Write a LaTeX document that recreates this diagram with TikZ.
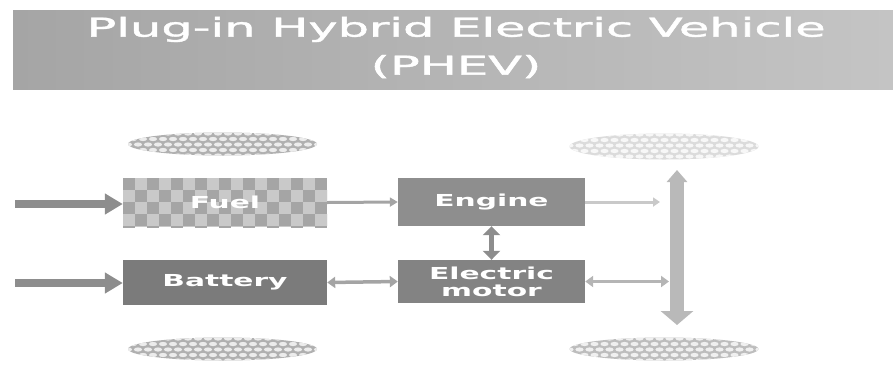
\documentclass[tikz,border=0pt]{standalone}
\usepackage{fontspec}
\setmainfont{DejaVu Sans}
\newfontfamily\titlefont[FakeBold=1.3]{DejaVu Sans}
\usepackage{graphicx}
\usetikzlibrary{arrows.meta,calc,shapes.geometric}
\definecolor{band}{HTML}{A5A5A5}
\definecolor{bandlight}{HTML}{C4C4C4}
\definecolor{battfill}{HTML}{7B7B7B}
\definecolor{engfill}{HTML}{8E8E8E}
\definecolor{motfill}{HTML}{838383}
\definecolor{checklight}{HTML}{C9C9C9}
\definecolor{checkdark}{HTML}{A5A5A5}
\definecolor{flow}{HTML}{8D8D8D}
\definecolor{flowmid}{HTML}{A4A4A4}
\definecolor{flowpale}{HTML}{C9C9C9}
\newcommand{\stretchx}[1]{\scalebox{1.8}[1]{#1}}

\begin{document}
\begin{tikzpicture}[x=1pt, y=-1pt,
  unit/.style={rectangle, minimum width=204pt, inner sep=0pt, text=white, font=\fontsize{16.5}{17}\selectfont\bfseries},
  tyre/.style 2 args={ellipse, minimum width=189pt, minimum height=23pt, inner sep=0pt, fill=#1, path picture={
      \foreach \j in {0,...,4}\foreach \i in {0,...,20}{
        \fill[#2] ($(path picture bounding box.north west)+({\i*10pt+mod(\j,2)*5pt},{-\j*5.5pt-1pt})$)
          ellipse [x radius=4.1pt, y radius=2.1pt];}}},
  feed/.style={flow, line width=8pt, -{Triangle[length=18pt,width=20pt]}},
  link/.style={flowmid, line width=3.5pt, {Triangle[length=8pt,width=11pt]}-{Triangle[length=8pt,width=11pt]}}]
  \useasboundingbox (0,0) rectangle (893,368);
  % title band
  \fill[left color=band, right color=bandlight] (13,10) rectangle (893,89);
  \node[text=white, align=center, font=\fontsize{26}{38}\selectfont\titlefont] (title) at (456,47.5)
    {\scalebox{1.9}[1]{Plug-in Hybrid Electric Vehicle}\\\scalebox{1.9}[1]{(PHEV)}};
  % wheels
  \node[tyre={gray!62}{gray!15}] (tyreTL) at (222.5,144) {};
  \node[tyre={gray!62}{gray!15}] (tyreBL) at (222.5,349) {};
  \node[tyre={gray!28}{gray!6}, minimum height=26pt] (tyreTR) at (664,146.5) {};
  \node[tyre={gray!52}{gray!12}] (tyreBR) at (664,349) {};
  % units
  \node[unit, minimum height=49pt, fill=checklight, path picture={
      \foreach \i in {0,...,17}\foreach \j in {0,...,4}{
        \pgfmathtruncatemacro{\k}{mod(\i+\j,2)}
        \ifnum\k=0 \fill[checkdark] ($(path picture bounding box.north west)+(\i*12pt,-\j*12pt)$) rectangle ++(12pt,-12pt);\fi}}]
    (fuel) at (225,202.5) {\stretchx{Fuel}};
  \node[unit, minimum height=45pt, fill=battfill] (battery) at (225,282.5) {\stretchx{Battery}};
  \node[unit, minimum width=187pt, minimum height=48pt, fill=engfill] (engine) at (491.5,202) {\stretchx{Engine}};
  \node[unit, minimum width=187pt, minimum height=43pt, fill=motfill, align=center] (motor) at (491.5,281.5)
    {\stretchx{Electric}\\\stretchx{motor}};
  % flows
  \coordinate (fuelsrc) at (15,204);
  \coordinate (battsrc) at (15,283);
  \coordinate (axleE) at (660,202);
  \coordinate (axleM) at (669,281.5);
  \coordinate (axletop) at (677,170);
  \coordinate (axlebot) at (677,325);
  \draw[feed] (fuelsrc) -- (fuelsrc -| fuel.west);
  \draw[feed] (battsrc) -- (battsrc -| battery.west);
  \draw[flowmid, line width=3pt, -{Triangle[length=8pt,width=9pt]}] (fuel.east) -- (engine.west);
  \draw[link] (battery.east) -- (motor.west);
  \draw[flow, line width=5pt, {Triangle[length=9pt,width=17pt]}-{Triangle[length=9pt,width=17pt]}] (engine.south) -- (motor.north);
  \draw[flowpale, line width=3pt, -{Triangle[length=7pt,width=9pt]}] (engine.east) -- (axleE);
  \draw[link, flowpale!90!black] (motor.east) -- (axleM);
  \draw[flowpale!92!black, line width=14pt, {Triangle[length=12pt,width=20pt]}-{Triangle[length=14pt,width=32pt]}] (axletop) -- (axlebot);
\end{tikzpicture}
\end{document}
